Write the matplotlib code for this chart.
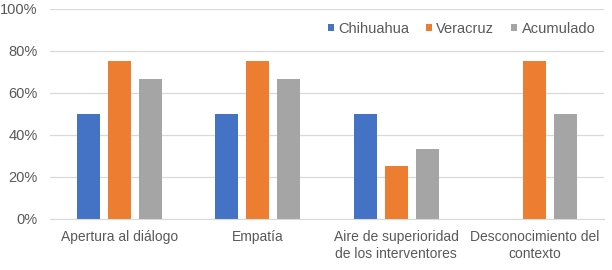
import matplotlib
matplotlib.use("Agg")
import matplotlib.pyplot as plt
import numpy as np

categories = ["Apertura al diálogo", "Empatía",
              "Aire de superioridad\nde los interventores",
              "Desconocimiento del\ncontexto"]
series_names = ["Chihuahua", "Veracruz", "Acumulado"]
chihuahua = [50, 50, 50, 0]
veracruz = [75, 75, 25, 75]
acumulado = [66.7, 66.7, 33.3, 50]
colors = ["#4472C4", "#ED7D31", "#A5A5A5"]

plt.rcParams["font.family"] = ["Liberation Sans", "DejaVu Sans"]
text_color = "#595959"

fig = plt.figure(figsize=(6.12, 2.70), dpi=100)
ax = fig.add_axes([0.082, 0.189, 0.905, 0.778])

x = np.arange(len(categories))
width = 0.166
step = 0.224
for i, (name, vals, c) in enumerate(zip(series_names,
                                        [chihuahua, veracruz, acumulado],
                                        colors)):
    ax.bar(x + (i - 1) * step, vals, width, color=c, label=name, zorder=2)

ax.set_xlim(-0.5, len(categories) - 0.5)
ax.set_ylim(0, 100)
ax.set_yticks(np.arange(0, 101, 20))
ax.set_yticklabels([f"{v}%" for v in range(0, 101, 20)])
ax.set_xticks(x)
ax.set_xticklabels(categories, linespacing=1.3)
ax.tick_params(axis="both", length=0, colors=text_color)
ax.tick_params(axis="x", pad=8, labelsize=10)
ax.tick_params(axis="y", pad=9, labelsize=10.5)
ax.grid(axis="y", color="#D9D9D9", linewidth=0.9, zorder=0)
for s in ("top", "right", "left"):
    ax.spines[s].set_visible(False)
ax.spines["bottom"].set_color("#D9D9D9")

leg = ax.legend(loc="center right", bbox_to_anchor=(1.0, 0.905), ncol=3,
                frameon=False, fontsize=10.5, handlelength=0.42,
                handleheight=0.42, handletextpad=0.3, columnspacing=1.15,
                borderaxespad=0.2)
for t in leg.get_texts():
    t.set_color(text_color)

fig.savefig("out.png", dpi=100)
